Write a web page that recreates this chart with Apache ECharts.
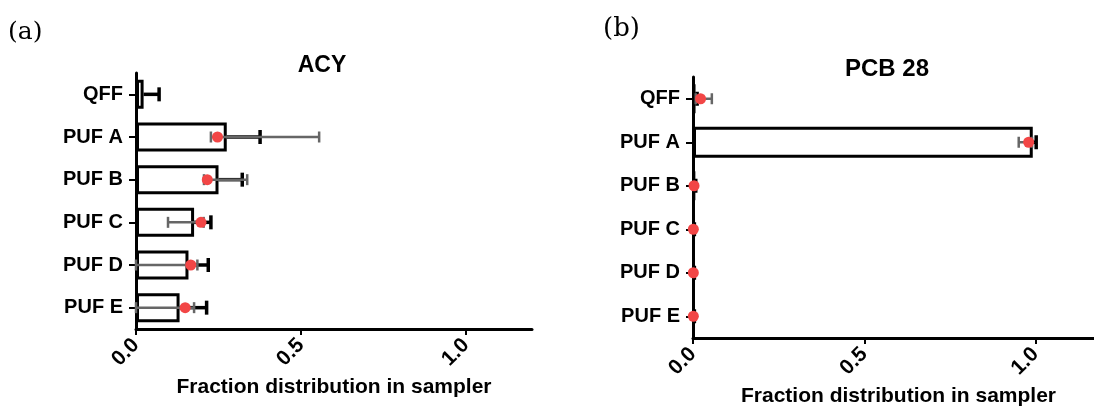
<!DOCTYPE html>
<html>
<head>
<meta charset="utf-8">
<script src="https://cdn.jsdelivr.net/npm/echarts@6/dist/echarts.min.js"></script>
<style>
  html, body { margin: 0; padding: 0; background: #fff; }
  #main { width: 1094px; height: 406px; }
</style>
</head>
<body>
<div id="main"></div>
<script>
// sampler categories (top to bottom)
var categories = ['QFF', 'PUF A', 'PUF B', 'PUF C', 'PUF D', 'PUF E'];
var xTicks = [0, 0.5, 1.0];

// (a) ACY - measured fraction (bars), mean + SD, modelled value (dots) with range
var acyBar = [0.023, 0.275, 0.250, 0.176, 0.159, 0.132];
var acyBarHigh = [0.070, 0.376, 0.322, 0.227, 0.219, 0.214];
var acyDot = [-0.001, 0.247, 0.216, 0.197, 0.166, 0.149];
var acyDotLow = [null, 0.227, 0.206, 0.097, 0.0, 0.0];
var acyDotHigh = [null, 0.555, 0.337, 0.205, 0.186, 0.176];

// (b) PCB 28
var pcbBar = [0.006, 0.992, 0.005, 0.003, 0.003, 0.003];
var pcbBarHigh = [0.012, 1.002, 0.008, 0.004, 0.004, 0.004];
var pcbDot = [0.022, 0.980, 0.003, 0.001, 0.001, 0.001];
var pcbDotLow = [0.008, 0.951, null, null, null, null];
var pcbDotHigh = [0.055, 0.990, null, null, null, null];

var font = 'Arial, "Liberation Sans", Helvetica, sans-serif';

function errData(lo, hi) {
    var out = [];
    for (var i = 0; i < categories.length; i++) {
        if (lo[i] == null || hi[i] == null) continue;
        out.push([lo[i], hi[i], i]);
    }
    return out;
}

function errRender(color, width, cap, bothCaps) {
    return function (params, api) {
        var lo = api.coord([api.value(0), api.value(2)]);
        var hi = api.coord([api.value(1), api.value(2)]);
        var style = { stroke: color, lineWidth: width };
        var kids = [
            { type: 'line', shape: { x1: lo[0], y1: lo[1], x2: hi[0], y2: hi[1] }, style: style },
            { type: 'line', shape: { x1: hi[0], y1: hi[1] - cap / 2, x2: hi[0], y2: hi[1] + cap / 2 }, style: style }
        ];
        if (bothCaps) {
            kids.push({ type: 'line', shape: { x1: lo[0], y1: lo[1] - cap / 2, x2: lo[0], y2: lo[1] + cap / 2 }, style: style });
        }
        return { type: 'group', children: kids };
    };
}

function xAxisFor(idx) {
    return {
        type: 'value', gridIndex: idx, min: 0, max: 1.2,
        name: 'Fraction distribution in sampler',
        nameLocation: 'middle', nameGap: 48, nameMoveOverlap: false,
        nameTextStyle: { fontFamily: font, fontWeight: 'bold', fontSize: 21, color: '#000' },
        axisLine: { show: true, lineStyle: { color: '#000', width: 3 } },
        axisTick: { show: true, length: 6, lineStyle: { color: '#000', width: 2 }, customValues: xTicks },
        axisLabel: {
            rotate: 45, margin: 13, customValues: xTicks,
            fontFamily: font, fontWeight: 'bold', fontSize: 21, color: '#000',
            formatter: function (v) { return v.toFixed(1); }
        },
        splitLine: { show: false }
    };
}

function yAxisFor(idx) {
    return {
        type: 'category', gridIndex: idx, data: categories, inverse: true,
        axisLine: { show: true, lineStyle: { color: '#000', width: 3 } },
        axisTick: { show: true, alignWithLabel: true, length: 7, lineStyle: { color: '#000', width: 2 } },
        axisLabel: { margin: 13, fontFamily: font, fontWeight: 'bold', fontSize: 20, color: '#000' }
    };
}

function panelSeries(idx, bar, barHigh, dot, dotLow, dotHigh, barWidth) {
    return [
        {
            type: 'bar', xAxisIndex: idx, yAxisIndex: idx, data: bar, barWidth: barWidth, z: 2,
            itemStyle: { color: '#fff', borderColor: '#000', borderWidth: 3 }
        },
        {
            type: 'custom', xAxisIndex: idx, yAxisIndex: idx, z: 3, clip: false,
            renderItem: errRender('#000', 3.5, 14, false),
            encode: { x: [0, 1], y: 2 },
            data: errData(bar, barHigh)
        },
        {
            type: 'custom', xAxisIndex: idx, yAxisIndex: idx, z: 4, clip: false,
            renderItem: errRender('#666', 2.5, 11, true),
            encode: { x: [0, 1], y: 2 },
            data: errData(dotLow, dotHigh)
        },
        {
            type: 'scatter', xAxisIndex: idx, yAxisIndex: idx, z: 5,
            symbolSize: 11,
            itemStyle: { color: '#f24646', opacity: 1 },
            data: dot.map(function (v, i) { return [v, i]; })
        }
    ];
}

var chart = echarts.init(document.getElementById('main'));
var option = {
    backgroundColor: '#fff',
    animation: false,
    title: [
        { text: 'ACY', left: 317, top: 49, textAlign: 'center',
          textStyle: { fontFamily: font, fontWeight: 'bold', fontSize: 23, color: '#000' } },
        { text: 'PCB 28', left: 882, top: 52, textAlign: 'center',
          textStyle: { fontFamily: font, fontWeight: 'bold', fontSize: 24, color: '#000' } }
    ],
    graphic: [
        { type: 'text', left: 8, top: 20, style: { text: '(a)', font: '25px "DejaVu Serif", serif', fill: '#000' } },
        { type: 'text', left: 603, top: 16, style: { text: '(b)', font: '26px "DejaVu Serif", serif', fill: '#000' } }
    ],
    grid: [
        { left: 136, top: 73, width: 396, height: 256, outerBoundsMode: 'none' },
        { left: 693, top: 77, width: 411, height: 261, outerBoundsMode: 'none' }
    ],
    xAxis: [xAxisFor(0), xAxisFor(1)],
    yAxis: [yAxisFor(0), yAxisFor(1)],
    series: panelSeries(0, acyBar, acyBarHigh, acyDot, acyDotLow, acyDotHigh, '68%')
        .concat(panelSeries(1, pcbBar, pcbBarHigh, pcbDot, pcbDotLow, pcbDotHigh, '71%'))
};
chart.setOption(option);
</script>
</body>
</html>
